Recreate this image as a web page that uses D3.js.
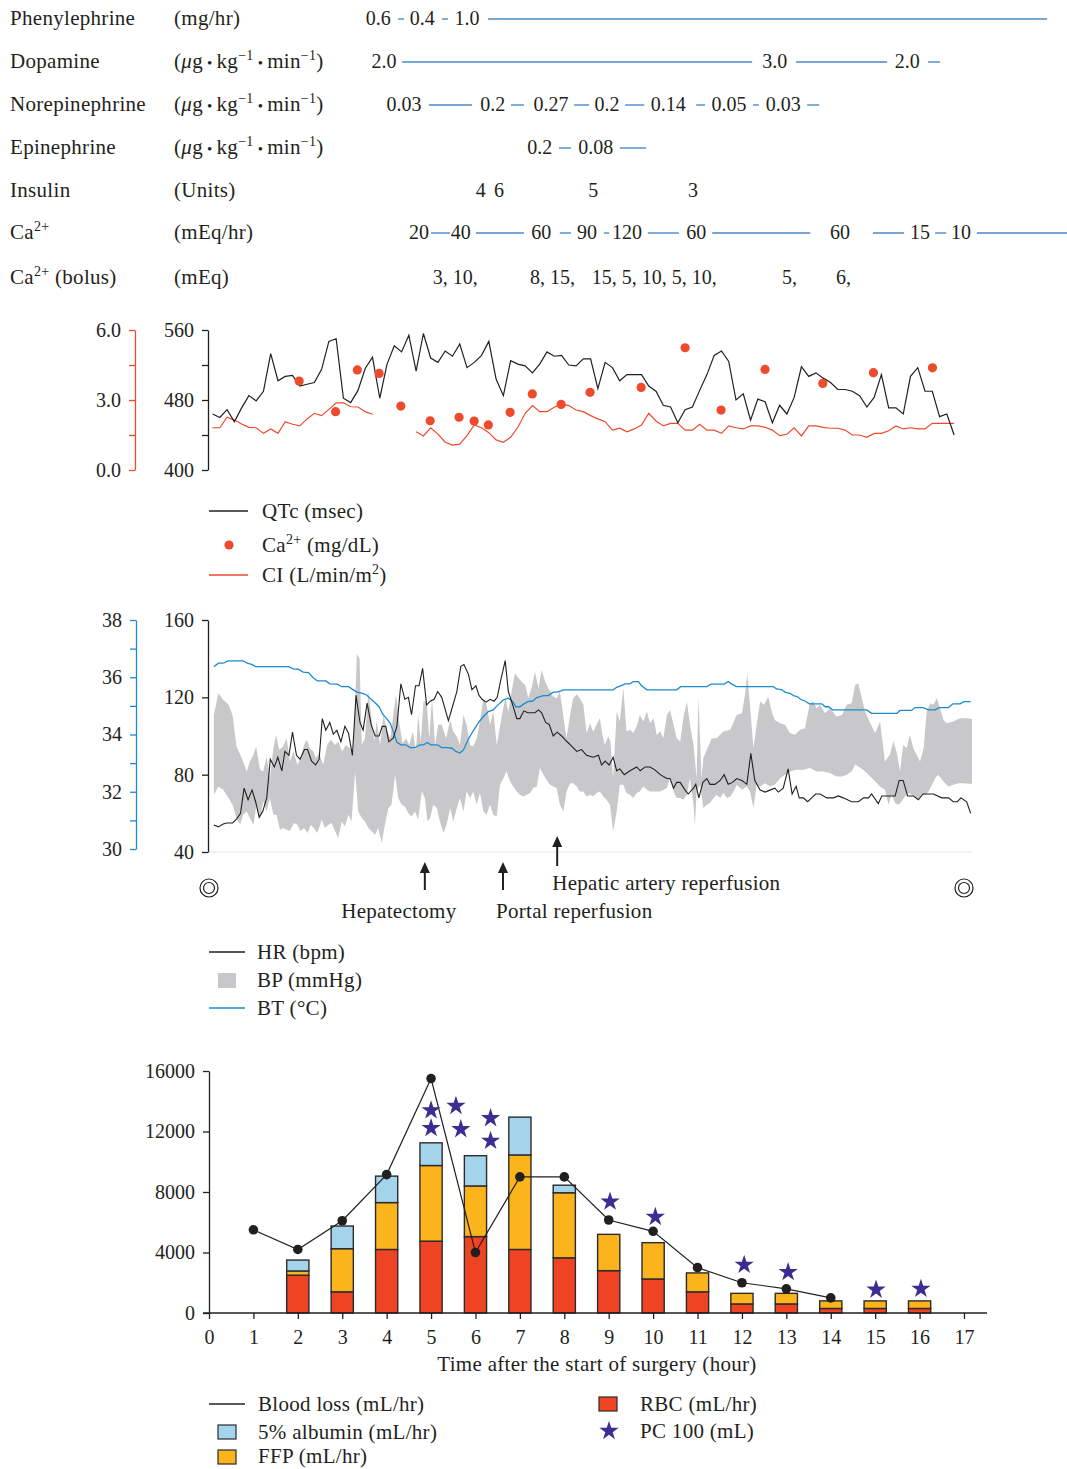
<!DOCTYPE html>
<html><head><meta charset="utf-8">
<script src="https://cdn.jsdelivr.net/npm/d3@7"></script>
<style>
body{margin:0;background:#fff;}
svg text{font-family:"Liberation Serif","Times New Roman",serif;fill:#231f20;}
</style></head>
<body><svg id="c" width="1067" height="1469"></svg>
<script>
// ---------------- DATA ----------------
const rowNames = ["Phenylephrine","Dopamine","Norepinephrine","Epinephrine","Insulin","Ca^2+^","Ca^2+^ (bolus)"];
const rowUnits = ["(mg/hr)","(_μ_g•kg^−1^•min^−1^)","(_μ_g•kg^−1^•min^−1^)","(_μ_g•kg^−1^•min^−1^)","(Units)","(mEq/hr)","(mEq)"];
// [label, hour]
const pheVals = [["0.6",3.81],["0.4",4.80],["1.0",5.81]];
const pheBars = [[4.26,4.39],[5.25,5.38],[6.28,18.87]];
const dopVals = [["2.0",3.94],["3.0",12.74],["2.0",15.72]];
const dopBars = [[4.35,12.23],[13.22,15.27],[16.19,16.46]];
const norVals = [["0.03",4.39],["0.2",6.39],["0.27",7.70],["0.2",8.96],["0.14",10.34],["0.05",11.71],["0.03",12.93]];
const norBars = [[4.95,5.92],[6.80,7.09],[8.22,8.56],[9.37,9.80],[10.97,11.17],[12.25,12.38],[13.47,13.74]];
const epiVals = [["0.2",7.45],["0.08",8.71]];
const epiBars = [[7.88,8.15],[9.25,9.84]];
const insVals = [["4",6.12],["6",6.53],["5",8.65],["3",10.90]];
const insBars = [];
const caVals = [["20",4.73],["40",5.67],["60",7.48],["90",8.51],["120",9.41],["60",10.97],["60",14.21],["15",16.01],["10",16.93]];
const caBars = [[5.00,5.43],[6.01,7.09],[7.90,8.15],[8.89,9.01],[9.88,10.58],[11.33,13.54],[14.95,15.65],[16.35,16.60],[17.29,19.32]];
const bolus = [[5.04,[3,10]],[7.23,[8,15]],[8.62,[15,5,10,5,10]],[12.90,[5]],[14.12,[6]]];

// QTc / CI sampled every ~10 min starting at 0.08 h
const qtcStart = 0.08, qtcStep = 0.1637;
const qtc = [464,460,469,455,471,485,479,490,533,502,507,508,496,498,500,515,547,550,482,477,491,516,529,482,521,542,535,554,513,556,528,523,536,530,544,517,523,531,547,504,485,525,521,519,511,521,535,530,531,520,519,527,527,493,523,517,502,509,509,509,496,490,474,472,454,469,472,491,509,531,536,524,480,487,457,481,478,454,474,464,483,518,507,511,505,500,492,492,490,485,472,483,509,471,471,464,507,517,490,490,461,464,440];
const ci = [1.81,1.81,2.26,2.14,1.97,1.83,1.81,1.57,1.76,1.57,2.07,1.96,1.89,2.19,2.43,2.33,2.60,2.88,2.88,2.71,2.70,2.50,2.39,null,null,null,null,null,1.64,1.46,1.81,1.54,1.19,1.07,1.11,1.47,1.93,1.81,1.60,1.29,1.19,1.40,1.83,2.43,2.76,2.50,2.50,2.69,2.83,2.76,2.57,2.50,2.33,2.19,2.07,1.71,1.79,1.64,1.76,1.93,2.43,2.10,1.89,2.00,2.00,1.71,1.71,1.96,1.71,1.71,1.57,1.89,1.81,1.76,1.89,1.89,1.83,1.71,1.47,1.53,1.81,1.46,1.89,1.89,1.83,1.79,1.79,1.71,1.50,1.50,1.40,1.57,1.57,1.68,1.89,1.76,1.81,1.76,1.76,2.00,2.00,2.00,2.00];
const caTimes = [2.03,2.85,3.34,3.83,4.32,4.98,5.63,5.97,6.29,6.78,7.28,7.93,8.58,9.73,10.72,11.53,12.52,13.82,14.96,16.29];
const caLevels = [3.81,2.50,4.29,4.14,2.74,2.11,2.26,2.10,1.93,2.47,3.26,2.81,3.33,3.54,5.24,2.57,4.31,3.71,4.17,4.38];

// HR [hour, bpm]
const hr = [[0.11,54],[0.21,53],[0.32,54.5],[0.40,55],[0.53,55],[0.62,57],[0.71,60],[0.79,73],[0.88,67],[0.97,72],[1.05,66],[1.13,58],[1.21,61],[1.30,68],[1.38,88],[1.47,84],[1.55,89],[1.64,82],[1.71,92],[1.80,90],[1.88,102],[1.97,90],[2.05,88],[2.15,93],[2.22,93],[2.31,87],[2.40,85],[2.48,88],[2.55,109],[2.63,103],[2.72,107],[2.80,101],[2.88,103],[2.97,97],[3.06,105],[3.14,101.5],[3.23,90],[3.31,121],[3.40,107],[3.47,103],[3.56,117],[3.65,106],[3.74,100],[3.83,100],[3.90,105],[3.98,105],[4.05,97],[4.15,99],[4.23,105],[4.32,127],[4.41,119],[4.49,120],[4.56,111],[4.65,126],[4.73,126],[4.81,135],[4.90,116],[4.98,118],[5.07,119],[5.15,123],[5.24,120],[5.39,108],[5.48,115],[5.58,123],[5.67,136],[5.74,137],[5.84,132],[5.92,124],[6.01,126],[6.08,121],[6.15,119],[6.24,117.5],[6.33,119],[6.42,118],[6.49,120],[6.57,129],[6.67,139],[6.74,123],[6.84,116],[6.93,109],[7.00,109],[7.09,113],[7.18,112],[7.25,112],[7.34,112],[7.42,113.5],[7.49,112],[7.58,107],[7.66,106],[7.75,100],[7.84,102],[7.94,100],[8.02,98],[8.11,96],[8.28,92],[8.39,93],[8.50,90],[8.65,89],[8.77,90],[8.84,85],[8.92,87],[9.01,85],[9.10,89],[9.18,82],[9.25,83],[9.35,80],[9.48,82],[9.63,84],[9.71,82],[9.82,84],[9.93,84],[10.04,82.5],[10.16,80],[10.31,78],[10.38,78],[10.46,73],[10.53,76],[10.61,76],[10.72,72],[10.79,70],[10.91,73],[10.96,75],[11.03,68],[11.12,76],[11.21,78],[11.28,75],[11.39,75],[11.51,77],[11.60,80],[11.69,75],[11.79,76],[11.88,78],[12.00,77],[12.11,75],[12.20,91],[12.29,77],[12.41,72],[12.52,71],[12.63,72],[12.74,73],[12.82,71],[12.93,73],[13.04,83],[13.13,70],[13.22,74],[13.29,68],[13.38,68],[13.48,66],[13.57,68],[13.66,70],[13.76,70],[13.91,68],[14.06,68],[14.17,69],[14.28,68],[14.47,66],[14.62,66],[14.74,68],[14.85,68],[14.92,70],[15.07,65],[15.15,69],[15.45,69],[15.54,77],[15.63,77],[15.73,69],[15.86,69],[15.97,67],[16.08,70],[16.20,70],[16.31,70],[16.50,68],[16.65,68],[16.76,66],[16.85,66],[16.93,68],[17.06,66],[17.15,60]];

// BT [hour, °C]
const bt = [[0.11,36.37],[0.21,36.49],[0.32,36.49],[0.43,36.57],[0.77,36.57],[0.86,36.49],[0.96,36.45],[1.05,36.37],[1.79,36.37],[1.90,36.29],[2.01,36.28],[2.12,36.18],[2.24,36.16],[2.34,35.99],[2.44,35.87],[2.63,35.87],[2.72,35.77],[2.89,35.76],[2.99,35.67],[3.14,35.67],[3.25,35.56],[3.33,35.48],[3.46,35.44],[3.55,35.38],[3.65,35.23],[3.74,35.11],[3.83,34.97],[3.91,34.71],[3.99,34.57],[4.08,34.40],[4.15,34.10],[4.23,33.73],[4.32,33.64],[4.43,33.64],[4.53,33.54],[4.64,33.54],[4.75,33.64],[4.83,33.64],[4.92,33.72],[4.99,33.64],[5.14,33.64],[5.24,33.54],[5.37,33.54],[5.47,33.52],[5.56,33.41],[5.65,33.35],[5.73,33.46],[5.84,33.84],[5.95,34.13],[6.06,34.40],[6.18,34.63],[6.29,34.80],[6.40,34.86],[6.49,35.01],[6.63,35.21],[6.74,35.27],[6.84,35.15],[6.91,34.97],[7.00,34.97],[7.09,35.07],[7.18,35.15],[7.29,35.17],[7.38,35.29],[7.53,35.36],[7.64,35.36],[7.75,35.48],[7.84,35.48],[7.94,35.53],[7.98,35.56],[9.10,35.56],[9.18,35.65],[9.27,35.70],[9.37,35.77],[9.48,35.77],[9.55,35.85],[9.67,35.85],[9.74,35.70],[9.86,35.56],[10.53,35.56],[10.62,35.67],[11.21,35.67],[11.30,35.76],[11.60,35.76],[11.69,35.85],[11.77,35.76],[11.88,35.67],[12.71,35.67],[12.78,35.59],[12.90,35.56],[12.97,35.48],[13.08,35.44],[13.16,35.36],[13.25,35.32],[13.32,35.23],[13.42,35.17],[13.52,35.07],[13.80,35.07],[13.87,34.97],[13.95,34.97],[14.04,34.86],[14.81,34.86],[14.92,34.74],[15.49,34.74],[15.56,34.84],[15.82,34.84],[15.90,34.94],[16.08,34.94],[16.20,34.86],[16.35,34.86],[16.44,34.94],[16.65,34.94],[16.75,35.07],[16.91,35.07],[17.00,35.15],[17.15,35.15]];

// BP systolic (upper) and diastolic (lower) [hour, mmHg]
const bpSys = [[0.11,110.9],[0.21,122.1],[0.32,118.7],[0.44,116.1],[0.53,110.9],[0.62,94.6],[0.74,88.5],[0.85,81.7],[0.92,86.8],[1.00,90.3],[1.06,94.6],[1.15,82.5],[1.22,81.7],[1.30,89.4],[1.37,78.2],[1.45,93.7],[1.51,100.6],[1.58,92.9],[1.67,94.6],[1.75,98.9],[1.82,86.8],[1.90,92.0],[1.99,85.1],[2.06,88.5],[2.14,95.4],[2.20,98.0],[2.27,93.7],[2.35,92.0],[2.41,88.5],[2.48,91.1],[2.57,85.1],[2.66,95.4],[2.74,98.0],[2.84,95.4],[2.91,97.2],[3.00,92.0],[3.08,95.4],[3.17,93.7],[3.25,91.1],[3.33,142.3],[3.39,140.2],[3.44,95.4],[3.51,98.9],[3.59,123.0],[3.65,110.9],[3.72,97.2],[3.78,108.3],[3.85,95.4],[3.93,110.9],[4.00,103.2],[4.08,98.9],[4.15,110.9],[4.21,121.3],[4.29,105.8],[4.36,96.3],[4.44,98.9],[4.51,95.4],[4.59,102.3],[4.66,92.0],[4.71,110.9],[4.77,97.2],[4.83,117.8],[4.90,117.8],[4.96,98.9],[5.02,119.5],[5.09,95.4],[5.16,105.8],[5.24,105.8],[5.34,98.9],[5.43,108.3],[5.50,102.3],[5.58,99.7],[5.65,95.4],[5.73,110.9],[5.80,105.8],[5.88,95.4],[5.95,94.6],[6.03,98.9],[6.10,107.5],[6.18,119.5],[6.25,116.1],[6.33,105.8],[6.40,112.7],[6.48,95.4],[6.57,107.5],[6.67,119.5],[6.74,112.7],[6.82,123.8],[6.89,132.5],[6.97,129.9],[7.04,128.1],[7.12,126.4],[7.19,119.5],[7.27,125.6],[7.34,133.3],[7.42,124.7],[7.49,134.2],[7.57,128.1],[7.64,124.7],[7.75,120.4],[7.83,119.5],[7.90,123.0],[8.05,98.9],[8.13,110.9],[8.20,119.5],[8.28,121.6],[8.35,119.5],[8.43,116.1],[8.50,101.5],[8.58,106.6],[8.65,102.3],[8.73,105.8],[8.80,109.2],[8.86,100.6],[8.91,95.4],[8.99,99.7],[9.04,97.2],[9.10,78.2],[9.18,112.7],[9.25,107.5],[9.33,124.7],[9.40,102.3],[9.48,103.2],[9.55,101.5],[9.63,104.9],[9.70,110.9],[9.78,107.5],[9.86,112.7],[9.93,106.6],[10.01,109.2],[10.08,100.6],[10.16,102.3],[10.23,98.9],[10.31,110.9],[10.38,113.5],[10.46,105.8],[10.53,98.9],[10.61,97.2],[10.68,109.2],[10.76,117.8],[10.83,105.8],[10.91,95.4],[10.98,78.2],[11.02,120.4],[11.09,78.2],[11.13,88.5],[11.21,92.9],[11.32,98.9],[11.43,98.9],[11.58,102.3],[11.74,103.2],[11.88,110.9],[12.00,111.8],[12.07,121.3],[12.12,132.5],[12.18,116.1],[12.26,93.7],[12.33,105.8],[12.41,117.8],[12.50,116.1],[12.59,120.4],[12.67,112.7],[12.74,108.3],[12.86,106.6],[12.97,105.8],[13.08,101.5],[13.19,100.6],[13.31,103.2],[13.42,104.0],[13.53,117.0],[13.61,117.8],[13.68,114.4],[13.76,116.1],[13.87,111.8],[13.98,114.4],[14.13,110.1],[14.25,110.9],[14.36,116.1],[14.47,117.0],[14.55,126.4],[14.62,127.3],[14.70,119.5],[14.77,112.7],[14.89,106.6],[15.00,101.5],[15.11,107.5],[15.22,86.8],[15.33,90.3],[15.41,97.2],[15.48,92.0],[15.56,81.7],[15.63,95.4],[15.71,93.7],[15.78,100.6],[15.86,93.7],[16.01,86.8],[16.09,93.7],[16.16,112.7],[16.24,117.0],[16.31,116.1],[16.39,119.5],[16.46,114.4],[16.54,108.3],[16.61,106.6],[16.76,107.5],[16.91,109.2],[17.06,109.2],[17.18,108.8]];
const bpDia = [[0.11,69.6],[0.21,73.9],[0.32,72.2],[0.44,67.9],[0.53,64.4],[0.62,57.6],[0.70,54.1],[0.77,59.3],[0.85,61.0],[0.92,57.6],[1.00,54.1],[1.07,64.4],[1.15,57.6],[1.22,66.2],[1.30,61.0],[1.37,67.9],[1.45,59.3],[1.52,59.3],[1.60,51.5],[1.67,52.4],[1.75,51.5],[1.82,50.7],[1.91,55.0],[1.99,54.1],[2.06,50.7],[2.14,52.4],[2.22,49.8],[2.29,54.1],[2.36,52.4],[2.44,49.8],[2.54,56.7],[2.61,52.4],[2.69,54.1],[2.76,55.0],[2.84,50.7],[2.91,47.2],[2.99,55.8],[3.06,53.2],[3.14,59.3],[3.21,55.8],[3.29,81.7],[3.36,61.0],[3.44,57.6],[3.51,55.8],[3.59,52.4],[3.66,50.7],[3.74,48.9],[3.81,52.4],[3.89,44.6],[3.96,54.1],[4.04,62.7],[4.11,64.4],[4.19,79.9],[4.26,67.9],[4.34,64.4],[4.41,63.6],[4.49,60.1],[4.56,58.4],[4.64,61.0],[4.71,56.7],[4.79,71.3],[4.86,67.9],[4.92,55.8],[4.98,57.6],[5.05,64.4],[5.13,62.7],[5.20,55.8],[5.28,49.8],[5.35,54.1],[5.43,62.7],[5.50,55.8],[5.58,62.7],[5.65,67.9],[5.73,61.0],[5.80,71.3],[5.88,67.9],[5.95,71.3],[6.03,64.4],[6.10,70.5],[6.18,61.0],[6.25,59.3],[6.33,64.4],[6.40,59.3],[6.48,58.4],[6.55,74.8],[6.63,78.2],[6.70,81.7],[6.78,76.5],[6.85,73.9],[6.93,71.3],[7.00,69.6],[7.08,68.7],[7.15,69.6],[7.23,70.5],[7.30,73.1],[7.38,73.9],[7.45,83.4],[7.53,79.9],[7.60,77.4],[7.68,74.8],[7.75,73.9],[7.83,73.1],[7.90,64.4],[7.98,61.0],[8.05,71.3],[8.13,75.6],[8.20,75.6],[8.28,73.9],[8.35,71.3],[8.43,71.3],[8.50,68.7],[8.58,69.6],[8.65,68.7],[8.73,70.5],[8.80,71.3],[8.88,68.7],[8.95,67.0],[9.03,64.4],[9.10,50.7],[9.18,61.0],[9.25,74.8],[9.33,74.8],[9.40,70.5],[9.48,69.6],[9.55,67.9],[9.63,70.5],[9.70,71.3],[9.78,73.9],[9.86,72.2],[9.93,71.3],[10.01,71.3],[10.16,71.3],[10.31,73.1],[10.38,78.2],[10.46,71.3],[10.53,67.9],[10.61,67.9],[10.68,67.0],[10.76,69.6],[10.83,78.2],[10.91,64.4],[10.94,53.2],[10.98,71.3],[11.06,74.8],[11.13,62.7],[11.21,64.4],[11.28,65.3],[11.36,67.9],[11.43,69.6],[11.51,67.9],[11.58,70.5],[11.66,67.9],[11.74,68.7],[11.81,71.3],[11.88,74.8],[12.00,72.2],[12.11,73.9],[12.18,71.3],[12.26,62.7],[12.33,74.8],[12.41,73.9],[12.52,75.6],[12.63,73.9],[12.74,74.8],[12.86,78.2],[12.97,79.9],[13.08,81.7],[13.23,82.5],[13.38,82.5],[13.53,83.4],[13.68,81.7],[13.83,81.7],[13.98,80.8],[14.13,79.1],[14.25,79.1],[14.36,79.9],[14.47,81.7],[14.55,85.1],[14.62,84.2],[14.73,82.5],[14.81,80.8],[14.89,79.1],[15.00,76.5],[15.11,73.9],[15.22,72.2],[15.30,64.4],[15.37,69.6],[15.45,65.3],[15.52,64.4],[15.60,66.2],[15.67,68.7],[15.75,70.5],[15.82,69.6],[15.90,67.9],[15.97,67.0],[16.05,69.6],[16.13,69.6],[16.20,71.3],[16.28,74.8],[16.35,78.2],[16.42,79.9],[16.54,76.5],[16.65,73.9],[16.76,74.8],[16.88,75.6],[16.99,75.6],[17.10,75.3],[17.18,75.3]];

const events = [["Hepatectomy",4.86],["Portal reperfusion",6.62],["Hepatic artery reperfusion",7.84]];

// Bottom chart
const xTicks = d3.range(0,18);
const barHours = [2,3,4,5,6,7,8,9,10,11,12,13,14,15,16];
const rbc = [2500,1400,4200,4750,5050,4200,3650,2800,2250,1400,600,600,300,300,300];
const ffp = [280,2850,3100,5000,3350,6250,4300,2400,2400,1250,700,700,500,500,500];
const albumin = [720,1500,1750,1500,2000,2500,500,0,0,0,0,0,0,0,0];
const lossHours = [1,2,3,4,5,6,7,8,9,10,11,12,13,14];
const bloodLoss = [5500,4200,6100,9150,15500,4000,9000,9000,6150,5400,3000,2000,1600,1000];
const pcStars = [[5.0,13400],[5.0,12220],[5.56,13690],[5.67,12150],[6.34,12880],[6.34,11380],[9.03,7360],[10.05,6350],[12.05,3185],[13.04,2700],[15.02,1540],[16.03,1600]];
const bloodTicks = [0,4000,8000,12000,16000];

// ---------------- DRAW ----------------
const svg = d3.select("#c");
const FS = 20;          // numbers
const FT = 21;          // words
const LS = 0.3;         // letter spacing for words
const x = d3.scaleLinear().domain([0,17]).range([209,964]);
const BLUE_LINE = "#4a88c9", RED = "#ee4a2b", BTBLUE = "#1b8ad2", PURPLE = "#3f3892";

function rich(sel, str){
  const parts = str.split(/(_[^_]+_|\^[^^]+\^|•)/).filter(s=>s.length);
  let dyNext = 0, dxNext = 0;
  parts.forEach(p=>{
    let t;
    if(p.startsWith("_")){ t = sel.append("tspan").attr("font-style","italic").text(p.slice(1,-1)); }
    else if(p.startsWith("^")){ t = sel.append("tspan").attr("font-size",14).text(p.slice(1,-1)); t.attr("dy",-8+dyNext); dyNext=8; if(dxNext){t.attr("dx",dxNext);dxNext=0;} return; }
    else if(p==="•"){ t = sel.append("tspan").attr("font-size",15).text("•"); t.attr("dx",4); if(dyNext){t.attr("dy",dyNext+0);dyNext=0;} dxNext=4; return; }
    else { t = sel.append("tspan").text(p); }
    if(dyNext){t.attr("dy",dyNext);dyNext=0;}
    if(dxNext){t.attr("dx",dxNext);dxNext=0;}
  });
}
function word(sel){ return sel.attr("font-size",FT).attr("letter-spacing",LS); }

// Table
const rowY = [18,61,104,147,190,232,277];
const rowVals = [pheVals,dopVals,norVals,epiVals,insVals,caVals];
const rowBars = [pheBars,dopBars,norBars,epiBars,insBars,caBars];
const tbl = svg.append("g");
rowNames.forEach((n,i)=>{
  rich(word(tbl.append("text").attr("x",10).attr("y",rowY[i]+7)), n);
  rich(word(tbl.append("text").attr("x",174).attr("y",rowY[i]+7)), rowUnits[i]);
});
rowVals.forEach((vals,i)=>{
  tbl.selectAll(null).data(rowBars[i]).join("line")
    .attr("x1",d=>x(d[0])).attr("x2",d=>x(d[1]))
    .attr("y1",rowY[i]+1).attr("y2",rowY[i]+1)
    .attr("stroke",BLUE_LINE).attr("stroke-width",1.4);
  tbl.selectAll(null).data(vals).join("text")
    .attr("x",d=>x(d[1])).attr("y",rowY[i]+7).attr("text-anchor","middle")
    .attr("font-size",FS).text(d=>d[0]);
});
tbl.selectAll(null).data(bolus).join("text")
  .attr("x",d=>x(d[0])).attr("y",rowY[6]+7).attr("font-size",FS)
  .text(d=>d[1].join(", ")+",");

// ---- QTc panel ----
const yQ = d3.scaleLinear().domain([400,560]).range([470,330]);
const yCI = d3.scaleLinear().domain([0,6]).range([470,330]);
const aQ = svg.append("g").attr("transform","translate(208,0)")
  .call(d3.axisLeft(yQ).tickValues([400,440,480,520,560]).tickFormat(d=>d%80===0?d:"").tickSize(6).tickSizeOuter(0));
const aCI = svg.append("g").attr("transform","translate(135,0)")
  .call(d3.axisLeft(yCI).tickValues([0,1.5,3,4.5,6]).tickFormat(d=>d%3===0?d.toFixed(1):"").tickSize(6).tickSizeOuter(0));
[aQ,aCI].forEach(a=>{a.selectAll("text").attr("font-size",FS).attr("font-family","Liberation Serif").attr("dx",-5);});
aQ.selectAll("path,line").attr("stroke","#231f20").attr("stroke-width",1.3);
aQ.selectAll("text").attr("fill","#231f20");
aCI.selectAll("path,line").attr("stroke",RED).attr("stroke-width",1.3);
aCI.selectAll("text").attr("fill",RED);

const qT = i => qtcStart + i*qtcStep;
svg.append("path").datum(ci)
  .attr("d", d3.line().defined(d=>d!==null).x((d,i)=>x(qT(i))).y(d=>yCI(d)))
  .attr("fill","none").attr("stroke",RED).attr("stroke-width",1.2);
svg.append("path").datum(qtc)
  .attr("d", d3.line().x((d,i)=>x(qT(i))).y(d=>yQ(d)))
  .attr("fill","none").attr("stroke","#231f20").attr("stroke-width",1.2);
svg.selectAll(null).data(caTimes).join("circle")
  .attr("cx",d=>x(d)).attr("cy",(d,i)=>yCI(caLevels[i])).attr("r",4.6).attr("fill",RED);

// QTc legend
svg.append("line").attr("x1",209).attr("x2",248).attr("y1",511).attr("y2",511).attr("stroke","#231f20").attr("stroke-width",1.3);
word(svg.append("text").attr("x",262).attr("y",518)).text("QTc (msec)");
svg.append("circle").attr("cx",229).attr("cy",545).attr("r",4.6).attr("fill",RED);
rich(word(svg.append("text").attr("x",262).attr("y",552)),"Ca^2+^ (mg/dL)");
svg.append("line").attr("x1",209).attr("x2",248).attr("y1",575).attr("y2",575).attr("stroke",RED).attr("stroke-width",1.3);
rich(word(svg.append("text").attr("x",262).attr("y",582)),"CI (L/min/m^2^)");

// ---- HR / BP / BT panel ----
const yHR = d3.scaleLinear().domain([40,160]).range([852,620]);
const yBT = d3.scaleLinear().domain([30,38]).range([849,620]);
svg.append("line").attr("x1",209).attr("x2",972).attr("y1",852).attr("y2",852).attr("stroke","#e6e6e6").attr("stroke-width",1);
const bpPoly = bpSys.concat(bpDia.slice().reverse());
svg.append("path")
  .attr("d", d3.line().x(d=>x(d[0])).y(d=>yHR(d[1]))(bpPoly)+"Z")
  .attr("fill","#c8c8ca").attr("stroke","none");
svg.append("path").datum(bt)
  .attr("d", d3.line().x(d=>x(d[0])).y(d=>yBT(d[1])))
  .attr("fill","none").attr("stroke",BTBLUE).attr("stroke-width",1.3);
svg.append("path").datum(hr)
  .attr("d", d3.line().x(d=>x(d[0])).y(d=>yHR(d[1])))
  .attr("fill","none").attr("stroke","#231f20").attr("stroke-width",1.1);
const aHR = svg.append("g").attr("transform","translate(208,0)")
  .call(d3.axisLeft(yHR).tickValues([40,80,120,160]).tickSize(6).tickSizeOuter(0));
const aBT = svg.append("g").attr("transform","translate(136,0)")
  .call(d3.axisLeft(yBT).tickValues(d3.range(30,39)).tickFormat(d=>d%2===0?d:"").tickSize(6).tickSizeOuter(0));
[aHR,aBT].forEach(a=>{a.selectAll("text").attr("font-size",FS).attr("font-family","Liberation Serif").attr("dx",-5);});
aHR.selectAll("path,line").attr("stroke","#231f20").attr("stroke-width",1.3);
aHR.selectAll("text").attr("fill","#231f20");
aBT.selectAll("path,line").attr("stroke",BTBLUE).attr("stroke-width",1.3);
aBT.selectAll("text").attr("fill",PURPLE);

// event arrows
const evY = [[890,862],[890,862],[866,836]];
events.forEach((e,i)=>{
  const ex = x(e[1]);
  svg.append("line").attr("x1",ex).attr("x2",ex).attr("y1",evY[i][0]).attr("y2",evY[i][1]+8).attr("stroke","#231f20").attr("stroke-width",2);
  svg.append("path").attr("d",`M${ex-5},${evY[i][1]+11}L${ex},${evY[i][1]}L${ex+5},${evY[i][1]+11}Z`).attr("fill","#231f20");
});
word(svg.append("text").attr("x",x(events[0][1])-26).attr("y",918).attr("text-anchor","middle")).text(events[0][0]);
word(svg.append("text").attr("x",x(events[1][1])-7).attr("y",918)).text(events[1][0]);
word(svg.append("text").attr("x",x(events[2][1])-5).attr("y",890)).text(events[2][0]);
// start / end markers
[0,17].forEach(t=>{
  svg.append("circle").attr("cx",x(t)).attr("cy",888).attr("r",9).attr("fill","none").attr("stroke","#231f20").attr("stroke-width",1.2);
  svg.append("circle").attr("cx",x(t)).attr("cy",888).attr("r",5.5).attr("fill","none").attr("stroke","#231f20").attr("stroke-width",1.2);
});
// HR legend
svg.append("line").attr("x1",209).attr("x2",245).attr("y1",952).attr("y2",952).attr("stroke","#231f20").attr("stroke-width",1.3);
word(svg.append("text").attr("x",257).attr("y",959)).text("HR (bpm)");
svg.append("rect").attr("x",218).attr("y",973).attr("width",18).attr("height",15).attr("fill","#c8c8ca");
word(svg.append("text").attr("x",257).attr("y",987)).text("BP (mmHg)");
svg.append("line").attr("x1",209).attr("x2",245).attr("y1",1008).attr("y2",1008).attr("stroke",BTBLUE).attr("stroke-width",1.3);
word(svg.append("text").attr("x",257).attr("y",1015)).text("BT (°C)");

// ---- Bottom bar chart ----
const yB = d3.scaleLinear().domain([0,16000]).range([1313,1071]);
const COL = {rbc:"#ee4423", ffp:"#fbb41c", albumin:"#a4d3ec"};
const barRows = barHours.map((h,i)=>({h, rbc:rbc[i], ffp:ffp[i], albumin:albumin[i]}));
const stack = d3.stack().keys(["rbc","ffp","albumin"])(barRows);
const bw = x(0.5)-x(0);
stack.forEach(layer=>{
  svg.selectAll(null).data(layer.filter(d=>d[1]-d[0]>0)).join("rect")
    .attr("x",d=>x(d.data.h)-bw/2).attr("width",bw)
    .attr("y",d=>yB(d[1])).attr("height",d=>yB(d[0])-yB(d[1]))
    .attr("fill",COL[layer.key]).attr("stroke","#2b2b2b").attr("stroke-width",1.4);
});
svg.append("path").datum(bloodLoss)
  .attr("d", d3.line().x((d,i)=>x(lossHours[i])).y(d=>yB(d)))
  .attr("fill","none").attr("stroke","#231f20").attr("stroke-width",1.2);
svg.selectAll(null).data(bloodLoss).join("circle")
  .attr("cx",(d,i)=>x(lossHours[i])).attr("cy",d=>yB(d)).attr("r",4.8).attr("fill","#231f20");
const star = d3.symbol().type(d3.symbolStar).size(115);
svg.selectAll(null).data(pcStars).join("path")
  .attr("d",star).attr("transform",d=>`translate(${x(d[0])},${yB(d[1])})`).attr("fill","#3a2e93");
const aY = svg.append("g").attr("transform","translate(209,0)")
  .call(d3.axisLeft(yB).tickValues(bloodTicks).tickFormat(d3.format("d")).tickSize(6).tickSizeOuter(0));
const aX = svg.append("g").attr("transform","translate(0,1313)")
  .call(d3.axisBottom(x).tickValues(xTicks).tickFormat(d3.format("d")).tickSize(6).tickSizeOuter(0));
aX.select(".domain").remove();
svg.append("line").attr("x1",203).attr("x2",987).attr("y1",1313).attr("y2",1313).attr("stroke","#231f20").attr("stroke-width",1.3);
[aY,aX].forEach(a=>{a.selectAll("text").attr("font-size",FS).attr("font-family","Liberation Serif").attr("fill","#231f20");a.selectAll("path,line").attr("stroke","#231f20").attr("stroke-width",1.3);});
aY.selectAll("text").attr("dx",-5);
aX.selectAll("text").attr("dy","1.1em");
word(svg.append("text").attr("x",597).attr("y",1371).attr("text-anchor","middle")).text("Time after the start of surgery (hour)");

// bottom legend
svg.append("line").attr("x1",209).attr("x2",245).attr("y1",1404).attr("y2",1404).attr("stroke","#231f20").attr("stroke-width",1.3);
word(svg.append("text").attr("x",258).attr("y",1411)).text("Blood loss (mL/hr)");
svg.append("rect").attr("x",218).attr("y",1425).attr("width",18).attr("height",14).attr("fill",COL.albumin).attr("stroke","#2b2b2b").attr("stroke-width",1.2);
word(svg.append("text").attr("x",258).attr("y",1439)).text("5% albumin (mL/hr)");
svg.append("rect").attr("x",218).attr("y",1450).attr("width",18).attr("height",14).attr("fill",COL.ffp).attr("stroke","#2b2b2b").attr("stroke-width",1.2);
word(svg.append("text").attr("x",258).attr("y",1463)).text("FFP (mL/hr)");
svg.append("rect").attr("x",599).attr("y",1397).attr("width",18).attr("height",14).attr("fill",COL.rbc).attr("stroke","#2b2b2b").attr("stroke-width",1.2);
word(svg.append("text").attr("x",640).attr("y",1411)).text("RBC (mL/hr)");
svg.append("path").attr("d",star).attr("transform","translate(609,1431)").attr("fill","#3a2e93");
word(svg.append("text").attr("x",640).attr("y",1438)).text("PC 100 (mL)");
</script>
</body></html>
